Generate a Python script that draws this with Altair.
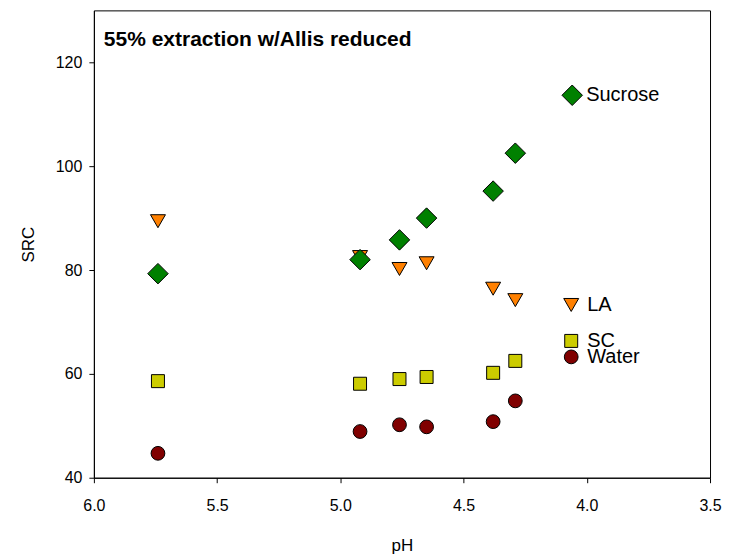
import altair as alt
import pandas as pd

ph = [5.74, 4.92, 4.76, 4.65, 4.38, 4.29]
sucrose = [79.3, 82.0, 85.8, 90.0, 95.2, 102.5]
la = [89.4, 82.5, 80.2, 81.3, 76.4, 74.2]
sc = [58.6, 58.1, 59.0, 59.4, 60.2, 62.5]
water = [44.7, 48.9, 50.2, 49.8, 50.8, 54.8]

series = ["Water", "SC", "LA", "Sucrose"]
values = {"Water": water, "SC": sc, "LA": la, "Sucrose": sucrose}
colors = {"Water": "#800000", "SC": "#CCCC00", "LA": "#FF8000", "Sucrose": "#008000"}
shapes = {"Water": "circle", "SC": "square", "LA": "triangle-down", "Sucrose": "diamond"}
sizes = {"Water": 190, "SC": 169, "LA": 225, "Sucrose": 420}
legend_pos = {"Water": (468, 337), "SC": (468, 321), "LA": (468, 285), "Sucrose": (468, 74)}
label_off = {"Water": 6, "SC": 6, "LA": 6, "Sucrose": 3}

xscale = alt.Scale(domain=[6.0, 3.5], nice=False, zero=False)
yscale = alt.Scale(domain=[40, 130], nice=False, zero=False)

layers = []
for s in series:
    df = pd.DataFrame({"pH": ph, "SRC": values[s], "series": s})
    lx, ly = legend_pos[s]
    layer = alt.Chart(df).mark_point(filled=True, opacity=1, stroke="black", strokeWidth=1, size=sizes[s]).encode(
        x=alt.X("pH:Q", scale=xscale,
                axis=alt.Axis(values=[6.0, 5.5, 5.0, 4.5, 4.0, 3.5], format=".1f", title="pH",
                              labelFlush=False)),
        y=alt.Y("SRC:Q", scale=yscale,
                axis=alt.Axis(values=[40, 60, 80, 100, 120], title="SRC", labelFlush=False)),
        color=alt.Color("series:N", scale=alt.Scale(domain=[s], range=[colors[s]]),
                        legend=alt.Legend(orient="none", legendX=lx, legendY=ly, title=None,
                                          labelFontSize=20, labelFont="Liberation Sans",
                                          labelColor="black", symbolSize=sizes[s],
                                          symbolStrokeColor="black", symbolStrokeWidth=1,
                                          symbolOpacity=1, labelOffset=label_off[s])),
        shape=alt.Shape("series:N", scale=alt.Scale(domain=[s], range=[shapes[s]])),
    )
    layers.append(layer)

title = alt.Chart(pd.DataFrame({"t": ["55% extraction w/Allis reduced"]})).mark_text(
    align="left", baseline="alphabetic", fontSize=21, fontWeight="bold",
    font="Liberation Sans", color="black"
).encode(text="t:N", x=alt.value(10), y=alt.value(36))

chart = alt.layer(*layers, title).resolve_scale(color="independent", shape="independent").properties(
    width=617, height=468, padding={"left": 11, "top": 2, "right": 0, "bottom": 0}
).configure_view(stroke="black", strokeWidth=1).configure_axis(
    grid=False, domainColor="black", tickColor="black", tickSize=5,
    labelFont="Liberation Sans", labelFontSize=16, labelColor="black",
    titleFont="Liberation Sans", titleFontSize=17, titleFontWeight="normal", titleColor="black",
).configure_axisX(labelPadding=15, titlePadding=24).configure_axisY(labelPadding=7, titlePadding=18)

chart.save("out.html", embed_options={"renderer": "svg", "actions": False})
